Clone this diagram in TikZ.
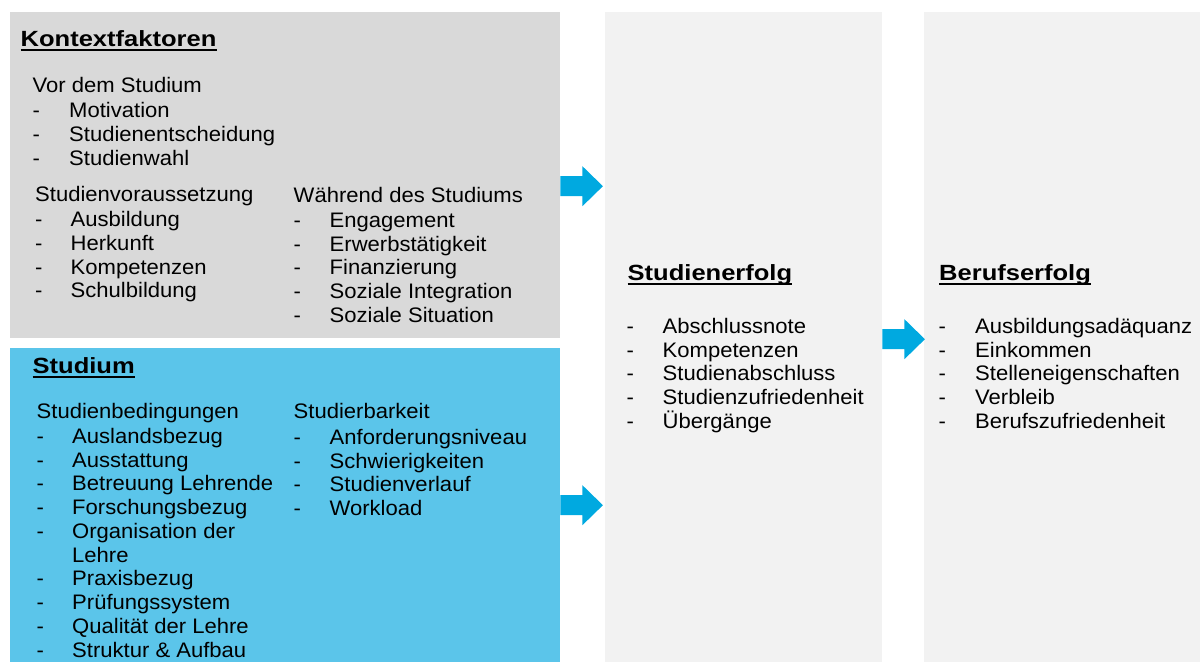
\documentclass[tikz,border=0pt]{standalone}
\usepackage{fontspec}
\setmainfont{Liberation Sans}
\newfontfamily\grundfont[FakeStretch=1.05]{Liberation Sans}
\newfontfamily\kopffont[FakeStretch=1.16]{Liberation Sans}
\definecolor{grauKasten}{HTML}{D9D9D9}
\definecolor{blauKasten}{HTML}{5BC5EA}
\definecolor{pfeilBlau}{HTML}{00A9E0}
\definecolor{spalte}{HTML}{F2F2F2}
\begin{document}
\begin{tikzpicture}[x=1pt,y=-1pt,
        kasten/.style={inner sep=0,anchor=north west},
        txt/.style={anchor=base west,inner sep=0,font=\grundfont\fontsize{21}{24}\selectfont},
        kopf/.style={anchor=base west,inner sep=0,font=\kopffont\bfseries\fontsize{22}{26}\selectfont}]
        \useasboundingbox (0,0) rectangle (1200,662);
        \node[kasten,fill=grauKasten,minimum width=550pt,minimum height=326pt] (kontext) at (10,12) {};
        \node[kasten,fill=blauKasten,minimum width=550pt,minimum height=314pt] (studium) at (10,348) {};
        \node[kasten,fill=spalte,minimum width=277pt,minimum height=650pt] (erfolg) at (605,12) {};
        \node[kasten,fill=spalte,minimum width=276pt,minimum height=650pt] (beruf) at (924,12) {};
        \foreach \k/\v in {kontext/-11,studium/0,erfolg/-2}
            \fill[pfeilBlau] ([yshift=\v pt+10pt]\k.east) -- ++(22,0) -- ++(0,-10) -- ++(20.5,20)
                -- ++(-20.5,20) -- ++(0,-10) -- ++(-22,0) -- cycle;
        \node[kopf] (kf) at (20.5,46) {Kontextfaktoren};
        \node[kopf] (st) at (32.5,373.5) {Studium};
        \node[kopf] (se) at (627.5,280) {Studienerfolg};
        \node[kopf] (be) at (939,280.5) {Berufserfolg};
        \foreach \k in {kf,st,se,be}
            \draw[line width=2pt] ([yshift=-3.5pt]\k.base west) -- ([yshift=-3.5pt]\k.base east);
        \node[txt] (vor) at (32.5,92) {Vor dem Studium};
        \node[txt] (vs) at (35,201) {Studienvoraussetzung};
        \node[txt] (wd) at (293.5,202.5) {Während des Studiums};
        \node[txt] (sb) at (36.5,418) {Studienbedingungen};
        \node[txt] (sk) at (293.5,418.5) {Studierbarkeit};
        \foreach \t [count=\i] in {Motivation,Studienentscheidung,Studienwahl} {
            \node[txt] (vord\i) at (32.5,{93+24*\i}) {-};
            \node[txt] (vor\i) at (69,{93+24*\i}) {\t};
        }
        \foreach \t [count=\i] in {Ausbildung,Herkunft,Kompetenzen,Schulbildung} {
            \node[txt] (vsd\i) at (35,{203+23.7*\i}) {-};
            \node[txt] (vs\i) at (70.5,{203+23.7*\i}) {\t};
        }
        \foreach \t [count=\i] in {Engagement,Erwerbstätigkeit,Finanzierung,Soziale Integration,Soziale Situation} {
            \node[txt] (wdd\i) at (293.5,{203.8+23.7*\i}) {-};
            \node[txt] (wd\i) at (329.5,{203.8+23.7*\i}) {\t};
        }
        \foreach \d/\t [count=\i] in {-/Auslandsbezug,-/Ausstattung,-/Betreuung Lehrende,-/Forschungsbezug,
            -/Organisation der,/Lehre,-/Praxisbezug,-/Prüfungssystem,-/Qualität der Lehre,-/Struktur \& Aufbau} {
            \node[txt] (sbd\i) at (36.5,{419.5+23.75*\i}) {\d};
            \node[txt] (sb\i) at (72,{419.5+23.75*\i}) {\t};
        }
        \foreach \t [count=\i] in {Anforderungsniveau,Schwierigkeiten,Studienverlauf,Workload} {
            \node[txt] (skd\i) at (293.5,{420.5+23.8*\i}) {-};
            \node[txt] (sk\i) at (329.5,{420.5+23.8*\i}) {\t};
        }
        \foreach \t [count=\i] in {Abschlussnote,Kompetenzen,Studienabschluss,Studienzufriedenheit,Übergänge} {
            \node[txt] (sed\i) at (626.5,{310+23.6*\i}) {-};
            \node[txt] (se\i) at (662.5,{310+23.6*\i}) {\t};
        }
        \foreach \t [count=\i] in {Ausbildungsadäquanz,Einkommen,Stelleneigenschaften,Verbleib,Berufszufriedenheit} {
            \node[txt] (bed\i) at (938.5,{310+23.6*\i}) {-};
            \node[txt] (be\i) at (975,{310+23.6*\i}) {\t};
        }
    \end{tikzpicture}
\end{document}
